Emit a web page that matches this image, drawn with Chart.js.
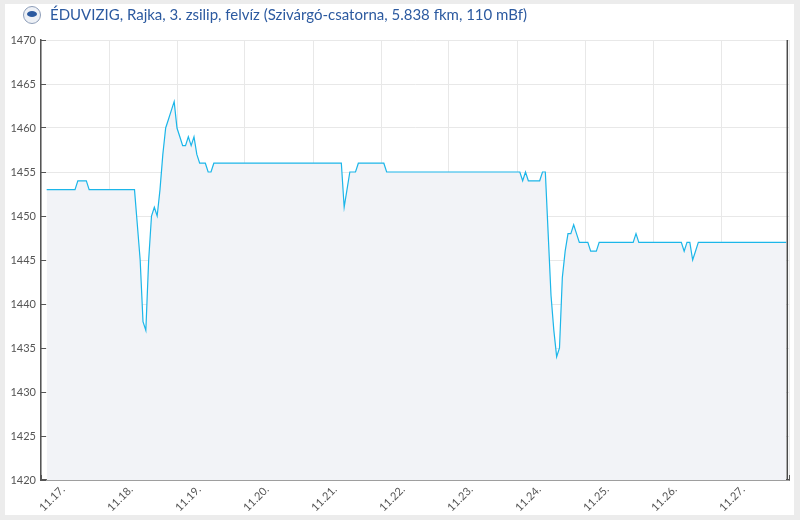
<!DOCTYPE html>
<html>
<head>
<meta charset="utf-8">
<script src="https://cdn.jsdelivr.net/npm/chart.js@4/dist/chart.umd.min.js"></script>
<style>
  html, body { margin: 0; padding: 0; background: #ececec; }
  #box { position: absolute; left: 5px; top: 4px; width: 789px; height: 511px; background: #fff; }
</style>
</head>
<body>
<div id="box"><canvas id="vizChart"></canvas></div>
<script>
// Cím és tengelyfeliratok
const chartTitle = 'ÉDUVIZIG, Rajka, 3. zsilip, felvíz (Szivárgó-csatorna, 5.838 fkm, 110 mBf)';
const dayLabels = ['11.17.', '11.18.', '11.19.', '11.20.', '11.21.', '11.22.', '11.23.', '11.24.', '11.25.', '11.26.', '11.27.'];
const yTicks = [1420, 1425, 1430, 1435, 1440, 1445, 1450, 1455, 1460, 1465, 1470];

// Óránkénti vízállás (cm), 11.17. 02:00-tól
const startHour = 2;
const nowHour = 263.4;
const levels = [
  // 11.17. 02-23
  1453, 1453, 1453, 1453, 1453, 1453, 1453, 1453, 1453, 1453, 1453,
  1454, 1454, 1454, 1454, 1453, 1453, 1453, 1453, 1453, 1453, 1453,
  // 11.18.
  1453, 1453, 1453, 1453, 1453, 1453, 1453, 1453, 1453, 1453, 1449, 1445,
  1438, 1437, 1445, 1450, 1451, 1450, 1453, 1457, 1460, 1461, 1462, 1463,
  // 11.19.
  1460, 1459, 1458, 1458, 1459, 1458, 1459, 1457, 1456, 1456, 1456, 1455,
  1455, 1456, 1456, 1456, 1456, 1456, 1456, 1456, 1456, 1456, 1456, 1456,
  // 11.20.
  1456, 1456, 1456, 1456, 1456, 1456, 1456, 1456, 1456, 1456, 1456, 1456,
  1456, 1456, 1456, 1456, 1456, 1456, 1456, 1456, 1456, 1456, 1456, 1456,
  // 11.21.
  1456, 1456, 1456, 1456, 1456, 1456, 1456, 1456, 1456, 1456, 1456, 1451,
  1453, 1455, 1455, 1455, 1456, 1456, 1456, 1456, 1456, 1456, 1456, 1456,
  // 11.22.
  1456, 1456, 1455, 1455, 1455, 1455, 1455, 1455, 1455, 1455, 1455, 1455,
  1455, 1455, 1455, 1455, 1455, 1455, 1455, 1455, 1455, 1455, 1455, 1455,
  // 11.23.
  1455, 1455, 1455, 1455, 1455, 1455, 1455, 1455, 1455, 1455, 1455, 1455,
  1455, 1455, 1455, 1455, 1455, 1455, 1455, 1455, 1455, 1455, 1455, 1455,
  // 11.24.
  1455, 1455, 1454, 1455, 1454, 1454, 1454, 1454, 1454, 1455, 1455, 1448,
  1441, 1437, 1434, 1435, 1443, 1446, 1448, 1448, 1449, 1448, 1447, 1447,
  // 11.25.
  1447, 1447, 1446, 1446, 1446, 1447, 1447, 1447, 1447, 1447, 1447, 1447,
  1447, 1447, 1447, 1447, 1447, 1447, 1448, 1447, 1447, 1447, 1447, 1447,
  // 11.26.
  1447, 1447, 1447, 1447, 1447, 1447, 1447, 1447, 1447, 1447, 1447, 1446,
  1447, 1447, 1445, 1446, 1447, 1447, 1447, 1447, 1447, 1447, 1447, 1447,
  // 11.27.
  1447, 1447, 1447, 1447, 1447, 1447, 1447, 1447, 1447, 1447, 1447, 1447,
  1447, 1447, 1447, 1447, 1447, 1447, 1447, 1447, 1447, 1447, 1447, 1447
];

const points = levels.map((v, i) => ({ x: startHour + i, y: v }));

// cím, logó és az "aktuális idő" vonal
const decor = {
  id: 'decor',
  afterDatasetsDraw(chart) {
    const { ctx, chartArea, scales } = chart;
    const x = scales.x.getPixelForValue(nowHour);
    ctx.save();
    ctx.strokeStyle = '#4a4a4a';
    ctx.lineWidth = 1.5;
    ctx.beginPath();
    ctx.moveTo(x, chartArea.top);
    ctx.lineTo(x, chartArea.bottom);
    ctx.stroke();
    ctx.restore();
  },
  afterDraw(chart) {
    const ctx = chart.ctx;
    ctx.save();
    // logó
    ctx.beginPath();
    ctx.arc(27, 11, 8.5, 0, Math.PI * 2);
    ctx.fillStyle = '#eef1f6';
    ctx.fill();
    ctx.strokeStyle = '#8d9db8';
    ctx.lineWidth = 1;
    ctx.stroke();
    ctx.beginPath();
    ctx.ellipse(27, 10, 5, 3, 0, 0, Math.PI * 2);
    ctx.fillStyle = '#2c5aa0';
    ctx.fill();
    // cím
    ctx.font = '15px Lato';
    ctx.fillStyle = '#2c5aa0';
    ctx.textBaseline = 'alphabetic';
    ctx.fillText(chartTitle, 45, 16);
    ctx.restore();
  }
};

Chart.defaults.font.family = 'Lato';

const levelChart = new Chart(document.getElementById('vizChart'), {
  type: 'line',
  data: {
    datasets: [{
      label: 'Vízállás',
      data: points,
      borderColor: '#1cb6e9',
      borderWidth: 1.2,
      backgroundColor: '#f2f3f7',
      fill: 'start',
      pointRadius: 0,
      tension: 0,
    }]
  },
  plugins: [decor],
  options: {
    responsive: true,
    maintainAspectRatio: false,
    animation: false,
    layout: { padding: { top: 36, left: 0, right: 5, bottom: 0 } },
    plugins: {
      legend: { display: false },
      tooltip: { enabled: false },
    },
    scales: {
      x: {
        type: 'linear',
        min: 0,
        max: 264,
        afterBuildTicks(scale) {
          scale.ticks = dayLabels.map((d, i) => ({ value: i * 24 })).concat([{ value: 264 }]);
        },
        afterFit(scale) {
          scale.height = 35;
          scale.paddingLeft = 0;
          scale.paddingRight = 0;
        },
        ticks: {
          autoSkip: false,
          maxRotation: 45,
          minRotation: 45,
          labelOffset: 22,
          padding: 8,
          color: '#555',
          font: { size: 11 },
          callback: (v) => dayLabels[v / 24] || '',
        },
        grid: { color: '#e8e8e8', tickColor: '#555', tickLength: -5 },
        border: { color: '#555', width: 1.5 },
      },
      y: {
        min: 1420,
        max: 1470,
        afterBuildTicks(scale) {
          scale.ticks = yTicks.map(v => ({ value: v }));
        },
        afterFit(scale) {
          scale.width = 36;
          scale.paddingTop = 0;
          scale.paddingBottom = 0;
        },
        ticks: {
          padding: 10,
          color: '#555',
          font: { size: 11 },
          callback: (v) => String(v),
        },
        grid: { color: '#e8e8e8', tickColor: '#555', tickLength: -5 },
        border: { color: '#555', width: 1.5 },
      }
    }
  }
});
</script>
</body>
</html>
